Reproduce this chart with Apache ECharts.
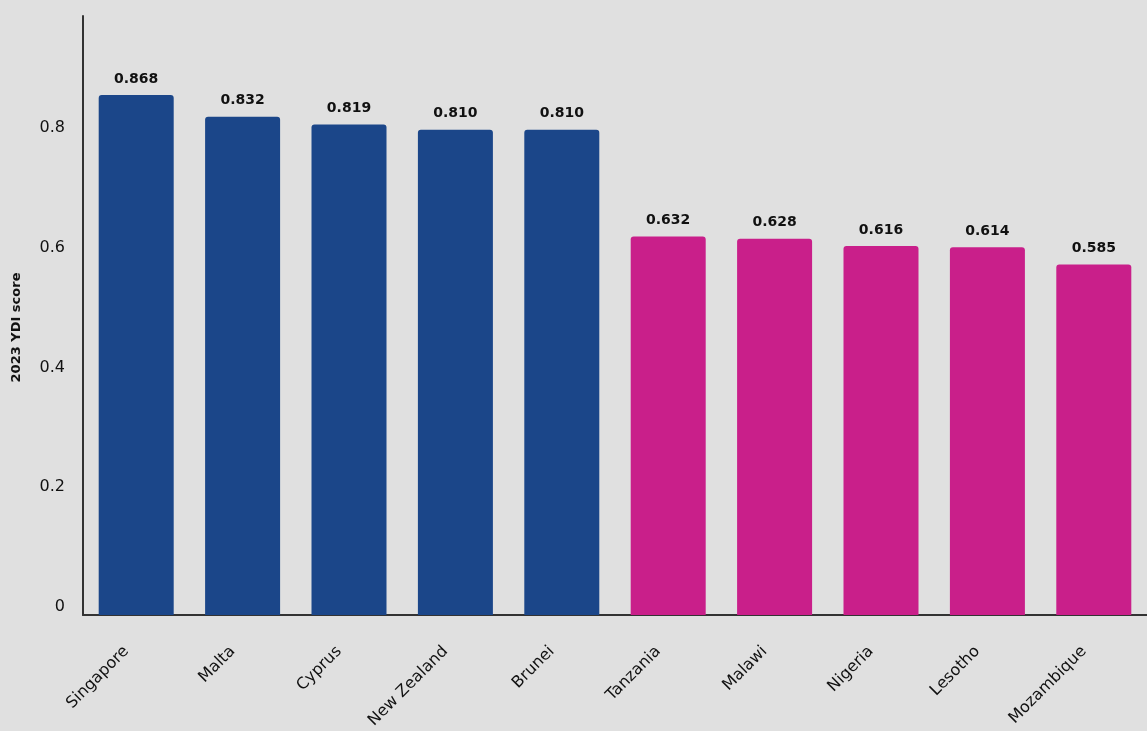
<!DOCTYPE html>
<html>
<head>
<meta charset="utf-8">
<script src="https://cdn.jsdelivr.net/npm/echarts@6/dist/echarts.min.js"></script>
<style>
html,body{margin:0;padding:0;background:#e0e0e0;}
#chart{width:1147px;height:731px;}
</style>
</head>
<body>
<div id="chart"></div>
<script>
const countries = ["Singapore","Malta","Cyprus","New Zealand","Brunei","Tanzania","Malawi","Nigeria","Lesotho","Mozambique"];
const scores = [0.868,0.832,0.819,0.810,0.810,0.632,0.628,0.616,0.614,0.585];
const groups = ["top","top","top","top","top","bottom","bottom","bottom","bottom","bottom"];
const groupColors = {top:"#1b4689", bottom:"#c91f8a"};
const yTicks = [0,0.2,0.4,0.6,0.8];

const chart = echarts.init(document.getElementById('chart'));
chart.setOption({
  backgroundColor:'#e0e0e0',
  animation:false,
  grid:{left:83, right:-7, top:16, bottom:114, containLabel:false},
  xAxis:{
    type:'category',
    data:countries,
    axisLine:{show:true,lineStyle:{color:'#333',width:2}},
    axisTick:{show:false},
    axisLabel:{rotate:45, margin:24, padding:[0,14,0,0], fontSize:16, color:'#111', fontFamily:'DejaVu Sans', interval:0}
  },
  yAxis:{
    type:'value',
    min:0, max:1, interval:0.2,
    name:'2023 YDI score',
    nameLocation:'middle',
    nameGap:60,
    nameTextStyle:{fontSize:13, fontWeight:'bold', color:'#111', fontFamily:'DejaVu Sans', padding:[0,0,0,-24]},
    axisLine:{show:true,lineStyle:{color:'#333',width:2}},
    axisTick:{show:false},
    splitLine:{show:false},
    axisLabel:{
      fontSize:16, color:'#111', fontFamily:'DejaVu Sans', margin:18,
      verticalAlign:'bottom',
      formatter:function(v){ return yTicks.indexOf(Math.round(v*10)/10)>=0 && v<0.99 ? (v===0?'0':String(Math.round(v*10)/10)) : ''; }
    }
  },
  series:[{
    type:'bar',
    barWidth:75,
    data:scores.map((v,i)=>({value:v,itemStyle:{color:groupColors[groups[i]],borderRadius:[3,3,0,0]}})),
    label:{show:true, position:'top', distance:9, fontSize:14, fontWeight:'bold', color:'#111', fontFamily:'DejaVu Sans',
      formatter:function(p){return p.value.toFixed(3);}}
  }]
});
</script>
</body>
</html>
